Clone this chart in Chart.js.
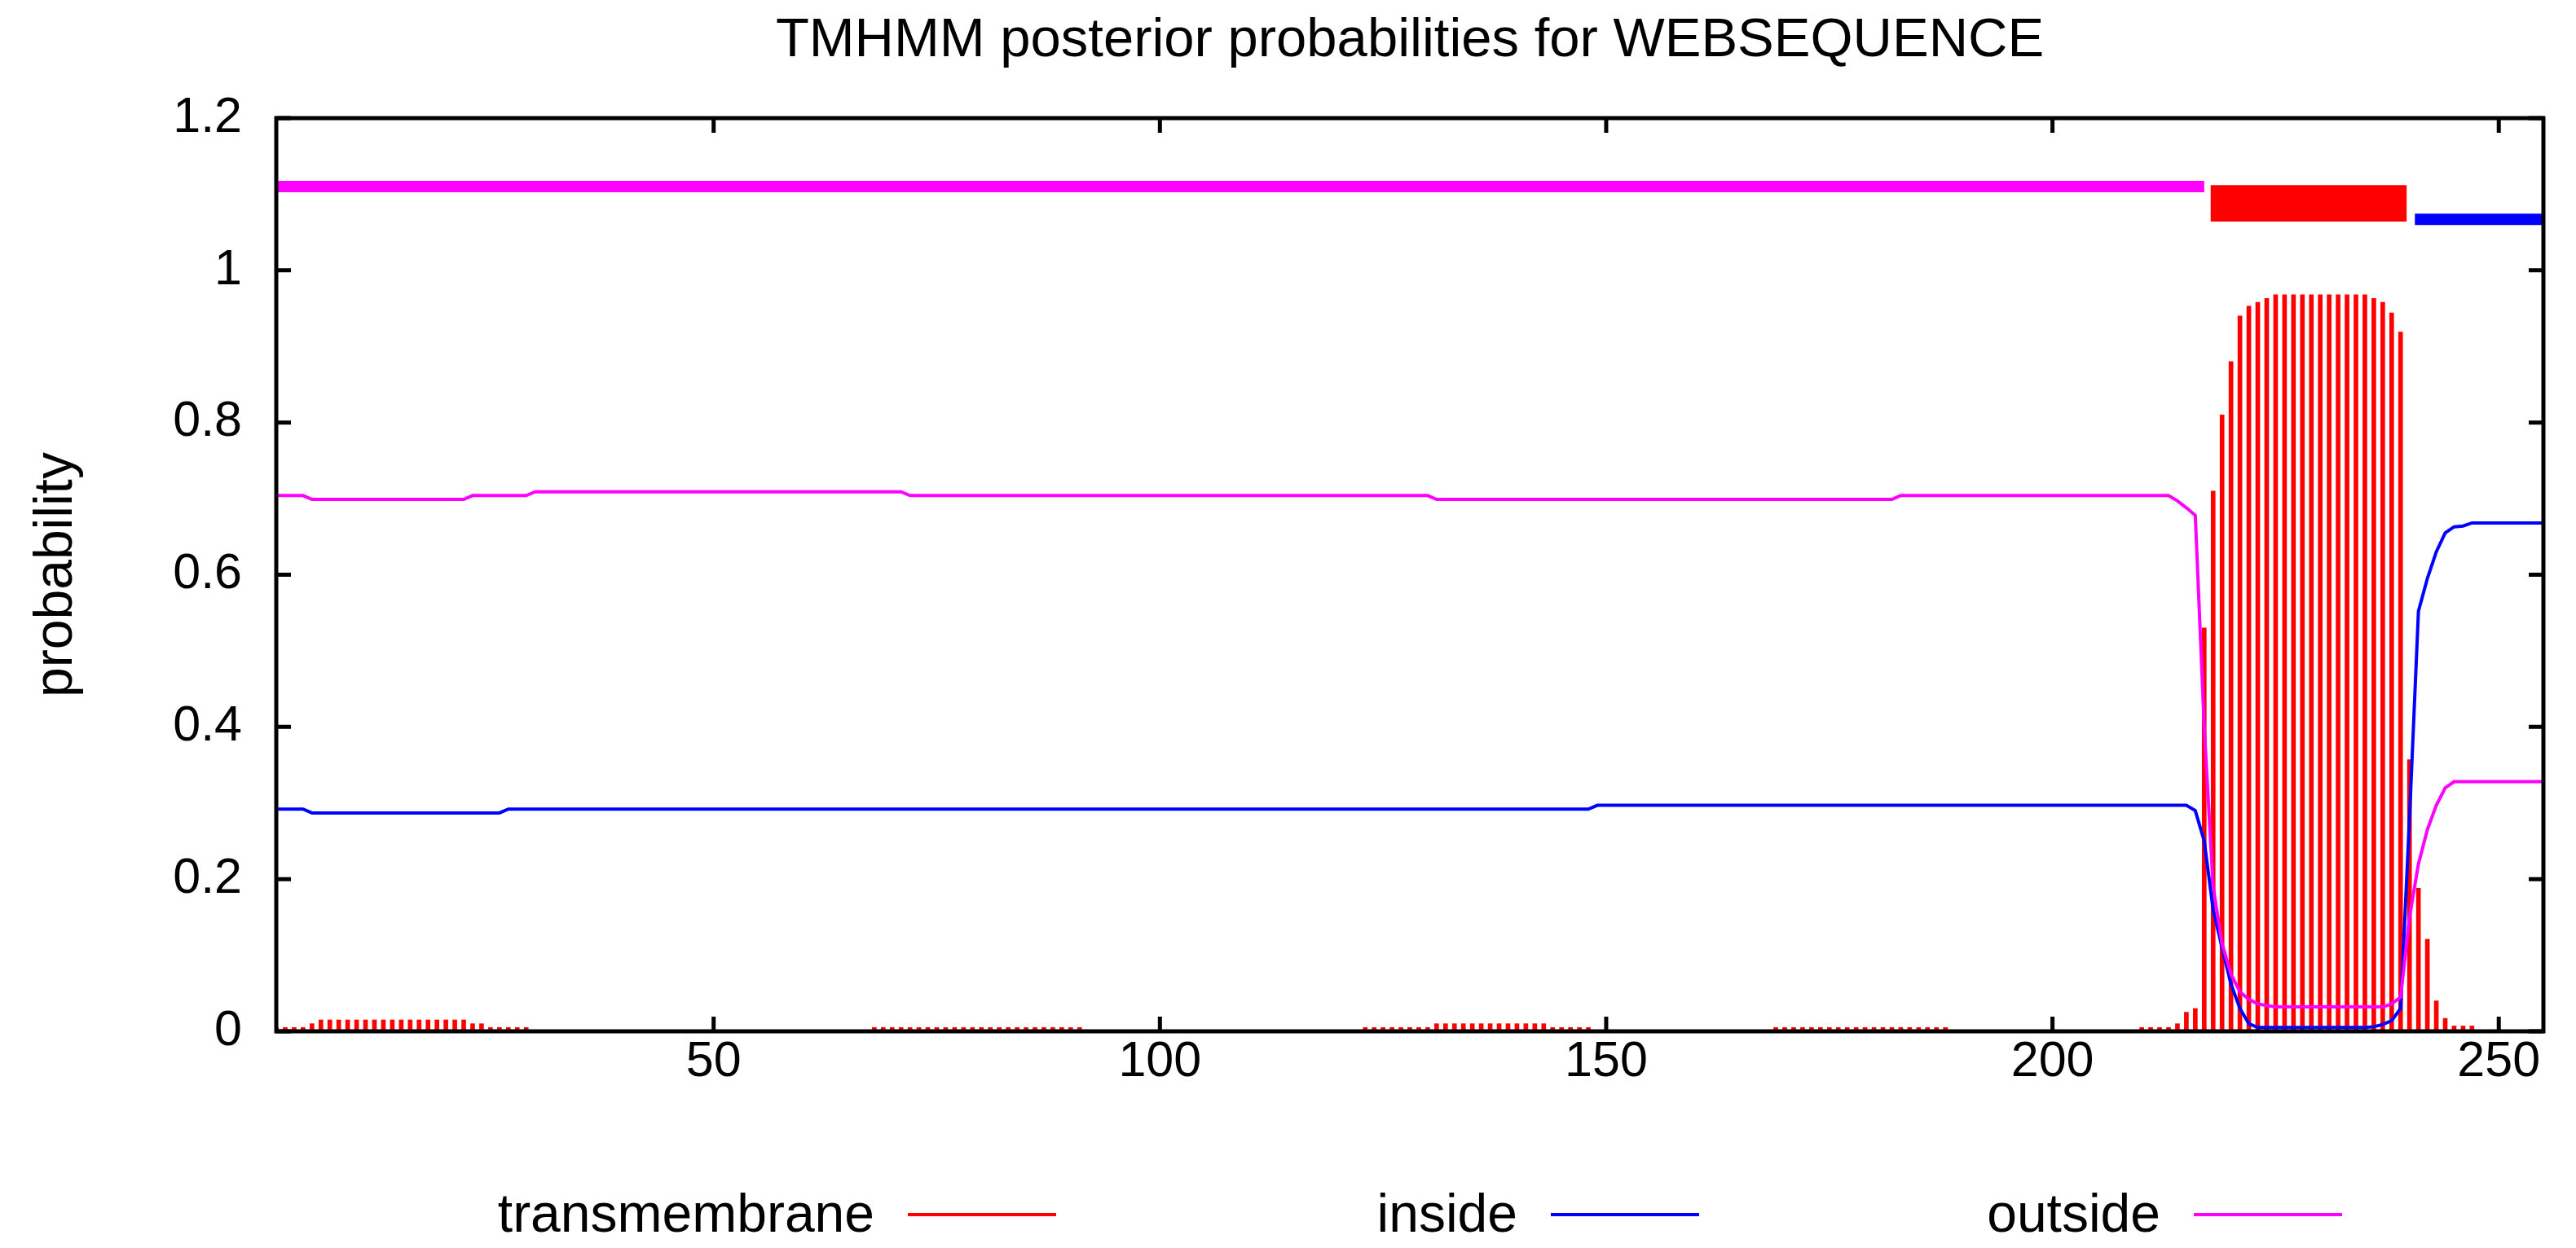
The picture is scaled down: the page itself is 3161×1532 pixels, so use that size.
<!DOCTYPE html>
<html>
<head>
<meta charset="utf-8">
<title>TMHMM posterior probabilities</title>
<script src="https://cdn.jsdelivr.net/npm/chart.js@4.4.1/dist/chart.umd.min.js"></script>
<style>
    html, body { margin: 0; padding: 0; background: #ffffff; overflow: hidden; }
    #wrap { width: 3161px; height: 1532px; position: relative; }
</style>
</head>
<body>
<div id="wrap"><canvas id="tmhmmChart"></canvas></div>
<script>
document.addEventListener("DOMContentLoaded", function() {
    renderChart();
});

// transmembrane posterior probability, one value per residue (1..255)
const tmProb = [
    0.005, 0.005, 0.005, 0.005, 0.01, 0.015, 0.015, 0.015, 0.015, 0.015,        // 1-10
    0.015, 0.015, 0.015, 0.015, 0.015, 0.015, 0.015, 0.015, 0.015, 0.015,       // 11-20
    0.015, 0.015, 0.01, 0.01, 0.005, 0.005, 0.005, 0.005, 0.005, 0,             // 21-30
    0, 0, 0, 0, 0, 0, 0, 0, 0, 0,                                               // 31-40
    0, 0, 0, 0, 0, 0, 0, 0, 0, 0,                                               // 41-50
    0, 0, 0, 0, 0, 0, 0, 0, 0, 0,                                               // 51-60
    0, 0, 0, 0, 0, 0, 0, 0.005, 0.005, 0.005,                                   // 61-70
    0.005, 0.005, 0.005, 0.005, 0.005, 0.005, 0.005, 0.005, 0.005, 0.005,       // 71-80
    0.005, 0.005, 0.005, 0.005, 0.005, 0.005, 0.005, 0.005, 0.005, 0.005,       // 81-90
    0.005, 0, 0, 0, 0, 0, 0, 0, 0, 0,                                           // 91-100
    0, 0, 0, 0, 0, 0, 0, 0, 0, 0,                                               // 101-110
    0, 0, 0, 0, 0, 0, 0, 0, 0, 0,                                               // 111-120
    0, 0, 0.005, 0.005, 0.005, 0.005, 0.005, 0.005, 0.005, 0.005,               // 121-130
    0.01, 0.01, 0.01, 0.01, 0.01, 0.01, 0.01, 0.01, 0.01, 0.01,                 // 131-140
    0.01, 0.01, 0.01, 0.005, 0.005, 0.005, 0.005, 0.005, 0, 0,                  // 141-150
    0, 0, 0, 0, 0, 0, 0, 0, 0, 0,                                               // 151-160
    0, 0, 0, 0, 0, 0, 0, 0, 0.005, 0.005,                                       // 161-170
    0.005, 0.005, 0.005, 0.005, 0.005, 0.005, 0.005, 0.005, 0.005, 0.005,       // 171-180
    0.005, 0.005, 0.005, 0.005, 0.005, 0.005, 0.005, 0.005, 0, 0,               // 181-190
    0, 0, 0, 0, 0, 0, 0, 0, 0, 0,                                               // 191-200
    0, 0, 0, 0, 0, 0, 0, 0, 0, 0.005,                                           // 201-210
    0.005, 0.005, 0.005, 0.01, 0.025, 0.03, 0.53, 0.71, 0.81, 0.88,             // 211-220
    0.94, 0.953, 0.958, 0.963, 0.968, 0.968, 0.968, 0.968, 0.968, 0.968,        // 221-230
    0.968, 0.968, 0.968, 0.968, 0.968, 0.963, 0.958, 0.944, 0.919, 0.357,       // 231-240
    0.188, 0.121, 0.04, 0.017, 0.007, 0.007, 0.007, 0, 0, 0,                    // 241-250
    0, 0, 0, 0, 0                                                               // 251-255
];

// inside probability, read at the residues where the curve changes
const insideX = [1, 4, 5, 26, 27, 148, 149, 215, 216, 217, 218, 219, 220, 221, 222, 223,
                 235, 236, 237, 238, 239, 240, 241, 242, 243, 244, 245, 246, 247, 255];
const insideY = [0.292, 0.292, 0.287, 0.287, 0.292, 0.292, 0.297, 0.297, 0.29, 0.25, 0.16, 0.11, 0.062, 0.03, 0.01, 0.005,
                 0.005, 0.006, 0.009, 0.014, 0.03, 0.28, 0.552, 0.595, 0.63, 0.655, 0.663, 0.664, 0.668, 0.668];

// outside probability
const outsideX = [1, 4, 5, 22, 23, 29, 30, 71, 72, 130, 131, 182, 183, 213, 214, 215, 216, 217, 218,
                  219, 220, 221, 222, 223, 224, 225, 237, 238, 239, 240, 241, 242, 243, 244, 245, 255];
const outsideY = [0.704, 0.704, 0.699, 0.699, 0.704, 0.704, 0.709, 0.709, 0.704, 0.704, 0.699, 0.699, 0.704, 0.704, 0.697, 0.688, 0.678, 0.40, 0.19,
                  0.115, 0.075, 0.052, 0.042, 0.036, 0.034, 0.032, 0.032, 0.036, 0.045, 0.15, 0.22, 0.265, 0.297, 0.32, 0.328, 0.328];

// predicted topology bars above the curves
const topoNames = ["outside", "TMhelix", "inside"];
const topoStart = [1, 217.7, 240.6];
const topoEnd = [217, 239.7, 255];
const topoLevel = [1.11, 1.112, 1.067];

const xTicks = [50, 100, 150, 200, 250];
const yTicks = [0, 0.2, 0.4, 0.6, 0.8, 1, 1.2];
const keyLabels = ["transmembrane", "inside", "outside"];
const keyColors = ["#ff0000", "#0000ff", "#ff00ff"];

const FONT = "'Liberation Sans', Arial, Helvetica, sans-serif";

// frame and inward tick marks, gnuplot style
const gnuFrame = {
    id: "gnuFrame",
    afterDatasetsDraw(chart) {
        const ctx = chart.ctx;
        const a = chart.chartArea;
        const x = chart.scales.x;
        const y = chart.scales.y;
        const len = 18;
        ctx.save();
        ctx.strokeStyle = "#000";
        ctx.lineWidth = 5;
        ctx.beginPath();
        x.ticks.forEach(t => {
            const px = x.getPixelForValue(t.value);
            ctx.moveTo(px, a.bottom); ctx.lineTo(px, a.bottom - len);
            ctx.moveTo(px, a.top); ctx.lineTo(px, a.top + len);
        });
        y.ticks.forEach(t => {
            const py = y.getPixelForValue(t.value);
            ctx.moveTo(a.left, py); ctx.lineTo(a.left + len, py);
            ctx.moveTo(a.right, py); ctx.lineTo(a.right - len, py);
        });
        ctx.stroke();
        ctx.strokeRect(a.left, a.top, a.right - a.left, a.bottom - a.top);
        ctx.restore();
    }
};

// key under the plot: label text first, then a short line sample
const gnuKey = {
    id: "gnuKey",
    afterDraw(chart) {
        const ctx = chart.ctx;
        const a = chart.chartArea;
        const cx = (a.left + a.right) / 2;
        const colW = 789;
        ctx.save();
        ctx.font = "66px " + FONT;
        ctx.fillStyle = "#000";
        ctx.textAlign = "right";
        ctx.textBaseline = "alphabetic";
        ctx.lineWidth = 4;
        keyLabels.forEach((label, i) => {
            const right = cx + 132 + (i - 1) * colW;
            ctx.fillText(label, right, a.bottom + 246);
            ctx.strokeStyle = keyColors[i];
            ctx.beginPath();
            ctx.moveTo(right + 41, a.bottom + 225);
            ctx.lineTo(right + 223, a.bottom + 225);
            ctx.stroke();
        });
        ctx.restore();
    }
};

// Function to build and draw the chart
function renderChart() {
    Chart.defaults.font.family = FONT;
    Chart.defaults.color = "#000";

    const ctx = document.getElementById("tmhmmChart").getContext("2d");
    window.tmhmmChart = new Chart(ctx, {
        type: "line",
        data: {
            datasets: [
                {
                    type: "bar",
                    label: keyLabels[0],
                    data: tmProb.map((p, i) => ({ x: i + 1, y: p })),
                    backgroundColor: keyColors[0],
                    borderWidth: 0,
                    barThickness: 5,
                    grouped: false,
                    order: 5
                },
                {
                    label: keyLabels[1],
                    data: insideX.map((v, i) => ({ x: v, y: insideY[i] })),
                    borderColor: keyColors[1],
                    borderWidth: 4,
                    pointRadius: 0,
                    tension: 0,
                    order: 4
                },
                {
                    label: keyLabels[2],
                    data: outsideX.map((v, i) => ({ x: v, y: outsideY[i] })),
                    borderColor: keyColors[2],
                    borderWidth: 4,
                    pointRadius: 0,
                    tension: 0,
                    order: 3
                },
                {
                    label: topoNames[0],
                    data: [{ x: topoStart[0], y: topoLevel[0] }, { x: topoEnd[0], y: topoLevel[0] }],
                    borderColor: keyColors[2],
                    borderWidth: 14,
                    borderCapStyle: "butt",
                    pointRadius: 0,
                    order: 2
                },
                {
                    label: topoNames[1],
                    data: [{ x: topoStart[1], y: topoLevel[1] }, { x: topoEnd[1], y: topoLevel[1] }],
                    borderWidth: 0,
                    backgroundColor: keyColors[0],
                    fill: { value: 1.064 },
                    pointRadius: 0,
                    order: 1
                },
                {
                    label: topoNames[2],
                    data: [{ x: topoStart[2], y: topoLevel[2] }, { x: topoEnd[2], y: topoLevel[2] }],
                    borderColor: keyColors[1],
                    borderWidth: 14,
                    borderCapStyle: "butt",
                    pointRadius: 0,
                    order: 0
                }
            ]
        },
        options: {
            responsive: true,
            maintainAspectRatio: false,
            devicePixelRatio: 1,
            animation: false,
            layout: { padding: { left: 0, right: 40, top: 0, bottom: 0 } },
            plugins: {
                legend: { display: false },
                tooltip: { enabled: false },
                title: {
                    display: true,
                    text: "TMHMM posterior probabilities for WEBSEQUENCE",
                    fullSize: false,
                    font: { size: 67, weight: "normal", lineHeight: 1.2 },
                    color: "#000",
                    padding: { top: 10, bottom: 54.6 }
                }
            },
            scales: {
                x: {
                    type: "linear",
                    min: 1,
                    max: 255,
                    offset: false,
                    grid: { display: false, drawTicks: false, offset: false },
                    border: { display: false },
                    ticks: { font: { size: 61 }, padding: 2, maxRotation: 0, color: "#000" },
                    afterBuildTicks: function(scale) {
                        scale.ticks = xTicks.map(v => ({ value: v }));
                    },
                    afterFit: function(scale) {
                        scale.height = 266;
                        scale.paddingLeft = 0;
                        scale.paddingRight = 0;
                    }
                },
                y: {
                    type: "linear",
                    min: 0,
                    max: 1.2,
                    grid: { display: false, drawTicks: false },
                    border: { display: false },
                    ticks: {
                        font: { size: 61 },
                        padding: 42,
                        color: "#000",
                        callback: v => String(v)
                    },
                    afterBuildTicks: function(scale) {
                        scale.ticks = yTicks.map(v => ({ value: v }));
                    },
                    afterFit: function(scale) {
                        scale.width = 339;
                        scale.paddingTop = 0;
                        scale.paddingBottom = 0;
                    },
                    title: {
                        display: true,
                        text: "probability",
                        font: { size: 66 },
                        color: "#000",
                        padding: { top: 30, bottom: 0 }
                    }
                }
            }
        },
        plugins: [gnuFrame, gnuKey]
    });
}
</script>
</body>
</html>
